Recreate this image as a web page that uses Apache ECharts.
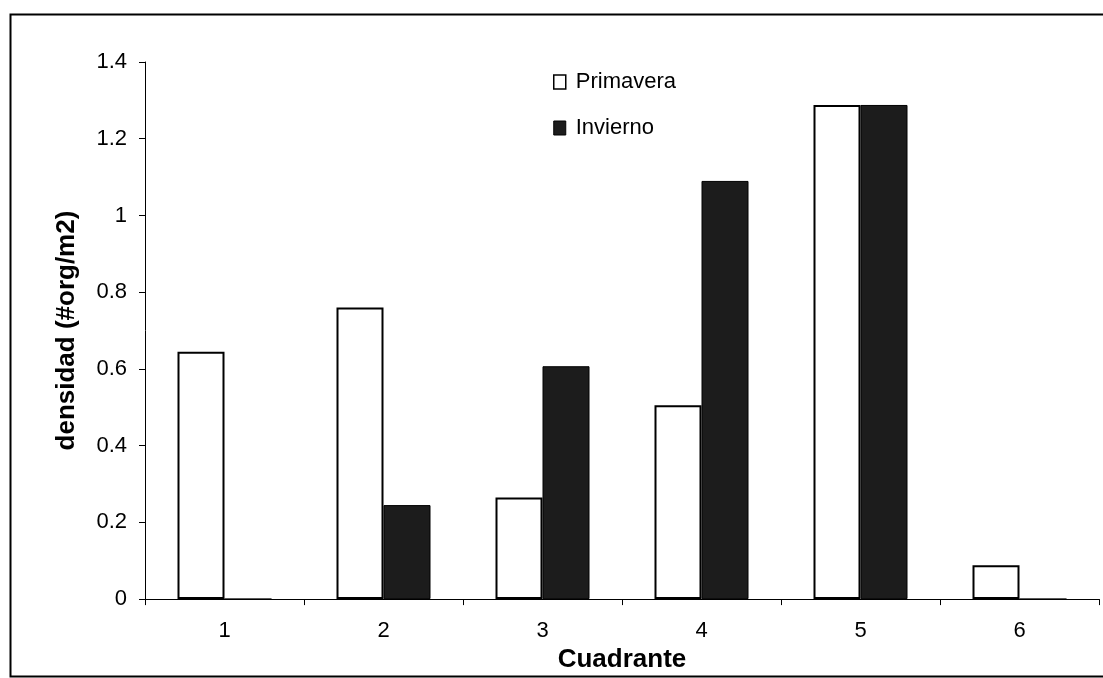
<!DOCTYPE html>
<html>
<head>
<meta charset="utf-8">
<script src="https://cdn.jsdelivr.net/npm/echarts@6/dist/echarts.min.js"></script>
<style>html,body{margin:0;padding:0;background:#fff;}#c{width:1103px;height:678px;}</style>
</head>
<body>
<div id="c"></div>
<script>
var categories = ['1', '2', '3', '4', '5', '6'];
var primavera = [0.645, 0.76, 0.265, 0.505, 1.288, 0.088];
var invierno = [0, 0.245, 0.607, 1.09, 1.288, 0];
var yTicks = [0, 0.2, 0.4, 0.6, 0.8, 1, 1.2, 1.4];

var chart = echarts.init(document.getElementById('c'));
var font = 'Liberation Sans, Arial, sans-serif';
chart.setOption({
  animation: false,
  backgroundColor: '#fff',
  graphic: [{
    type: 'rect',
    shape: {x: 10.5, y: 14.5, width: 1110, height: 662},
    style: {fill: 'none', stroke: '#000', lineWidth: 2}
  }],
  grid: {left: 145, right: 4, top: 62, bottom: 78, containLabel: false},
  legend: {
    orient: 'vertical',
    left: 548,
    top: 66,
    itemGap: 24,
    itemWidth: 12,
    itemHeight: 14,
    textStyle: {fontFamily: font, fontSize: 22, color: '#000', padding: [0, 0, 0, 5]},
    data: [
      {name: 'Primavera', icon: 'rect', itemStyle: {color: '#fff', borderColor: '#000', borderWidth: 1.5}},
      {name: 'Invierno', icon: 'rect', itemStyle: {color: '#1c1c1c', borderColor: '#000', borderWidth: 1}}
    ]
  },
  xAxis: {
    type: 'category',
    data: categories,
    name: 'Cuadrante',
    nameLocation: 'middle',
    nameGap: 45,
    nameTextStyle: {fontFamily: font, fontSize: 26, fontWeight: 'bold', color: '#000'},
    axisLine: {lineStyle: {color: '#000', width: 1}},
    axisTick: {show: true, length: 6, interval: 0, lineStyle: {color: '#000'}},
    axisLabel: {fontFamily: font, fontSize: 22, color: '#000', margin: 21},
    splitLine: {show: false}
  },
  yAxis: {
    type: 'value',
    min: 0,
    max: 1.4,
    interval: 0.2,
    name: 'densidad (#org/m2)',
    nameLocation: 'middle',
    nameGap: 65,
    nameRotate: 90,
    nameTextStyle: {fontFamily: font, fontSize: 26, fontWeight: 'bold', color: '#000'},
    axisLine: {show: true, lineStyle: {color: '#000', width: 1}},
    axisTick: {show: true, length: 6, lineStyle: {color: '#000'}},
    axisLabel: {
      fontFamily: font, fontSize: 22, color: '#000', margin: 18,
      formatter: function (v) { return yTicks.indexOf(Math.round(v * 10) / 10) >= 0 ? String(Math.round(v * 10) / 10) : ''; }
    },
    splitLine: {show: false}
  },
  series: [
    {
      name: 'Primavera', type: 'bar', data: primavera,
      barWidth: 47, barGap: '0%',
      itemStyle: {color: '#fff', borderColor: '#000', borderWidth: 2}
    },
    {
      name: 'Invierno', type: 'bar', data: invierno,
      barWidth: 47, barGap: '0%',
      itemStyle: {color: '#1c1c1c', borderColor: '#000', borderWidth: 1}
    }
  ]
});
</script>
</body>
</html>
